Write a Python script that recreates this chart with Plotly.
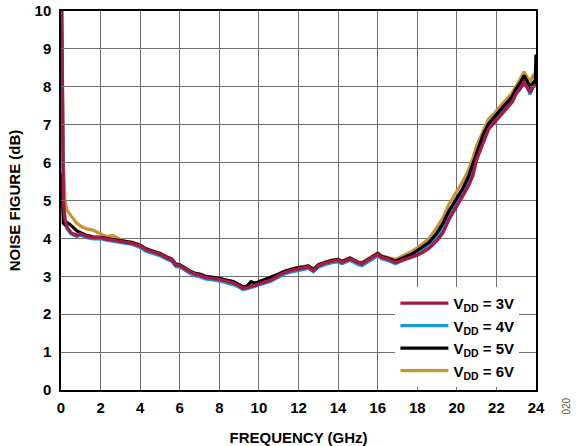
import plotly.graph_objects as go

freq = [0.03, 0.08, 0.12, 0.2, 0.3, 0.5, 0.8, 1.0, 1.3, 1.6, 2.0, 2.3, 2.6, 3.0, 3.3, 3.6,
        4.0, 4.3, 4.6, 5.0, 5.3, 5.6, 5.8, 6.0, 6.2, 6.5, 6.8, 7.0, 7.3, 7.6, 8.0, 8.3,
        8.7, 9.0, 9.2, 9.4, 9.6, 9.8, 10.0, 10.3, 10.6, 11.0, 11.3, 11.6, 12.0, 12.3, 12.5,
        12.75, 13.0, 13.3, 13.7, 14.0, 14.2, 14.6, 15.0, 15.2, 15.6, 16.0, 16.2, 16.5, 16.9,
        17.3, 17.7, 18.0, 18.3, 18.6, 19.0, 19.3, 19.6, 20.0, 20.3, 20.6, 20.8, 21.0, 21.3,
        21.6, 21.8, 22.0, 22.3, 22.6, 22.8, 23.0, 23.2, 23.4, 23.55, 23.7, 23.85, 23.95, 24.0]

nf_3v = [10.3, 7.2, 5.0, 4.5, 4.3, 4.15, 4.08, 4.12, 4.05, 4.02, 4.02, 3.98, 3.95, 3.93, 3.88, 3.87,
         3.8, 3.7, 3.65, 3.58, 3.5, 3.43, 3.3, 3.28, 3.22, 3.12, 3.05, 3.03, 2.97, 2.95, 2.92, 2.88,
         2.82, 2.75, 2.68, 2.7, 2.72, 2.76, 2.8, 2.84, 2.9, 3.02, 3.1, 3.15, 3.2, 3.22, 3.25,
         3.15, 3.28, 3.34, 3.4, 3.42, 3.37, 3.46, 3.35, 3.32, 3.46, 3.58, 3.5, 3.46, 3.36,
         3.43, 3.5, 3.56, 3.64, 3.74, 3.95, 4.15, 4.5, 4.88, 5.12, 5.4, 5.65, 6.08, 6.5,
         6.88, 7.0, 7.12, 7.32, 7.48, 7.6, 7.82, 7.95, 8.12, 7.98, 7.85, 8.0, 8.02, 8.05]

nf_4v = [10.3, 7.1, 4.95, 4.45, 4.26, 4.12, 4.05, 4.09, 4.02, 3.99, 3.99, 3.95, 3.92, 3.9, 3.85, 3.84,
         3.76, 3.66, 3.61, 3.54, 3.46, 3.39, 3.26, 3.24, 3.18, 3.08, 3.01, 2.99, 2.93, 2.91, 2.88, 2.84,
         2.78, 2.71, 2.65, 2.67, 2.69, 2.73, 2.77, 2.81, 2.87, 2.98, 3.06, 3.11, 3.16, 3.18, 3.21,
         3.12, 3.24, 3.3, 3.36, 3.38, 3.33, 3.42, 3.31, 3.28, 3.42, 3.54, 3.46, 3.42, 3.33,
         3.42, 3.52, 3.6, 3.7, 3.82, 4.05, 4.28, 4.62, 4.98, 5.22, 5.52, 5.8, 6.2, 6.6,
         6.95, 7.08, 7.2, 7.38, 7.55, 7.68, 7.88, 8.0, 8.15, 8.0, 7.8, 8.0, 8.1, 8.2]

nf_5v = [5.72, 4.8, 4.4, 4.36, 4.42, 4.35, 4.2, 4.15, 4.08, 4.04, 4.03, 4.0, 3.97, 3.95, 3.9, 3.89,
         3.82, 3.72, 3.67, 3.6, 3.52, 3.45, 3.32, 3.3, 3.24, 3.14, 3.07, 3.06, 3.0, 2.98, 2.95, 2.91,
         2.86, 2.78, 2.72, 2.74, 2.86, 2.82, 2.86, 2.9, 2.96, 3.06, 3.13, 3.18, 3.23, 3.25, 3.27,
         3.18, 3.3, 3.36, 3.42, 3.44, 3.39, 3.48, 3.37, 3.34, 3.48, 3.6, 3.52, 3.48, 3.4,
         3.48, 3.58, 3.68, 3.78, 3.9, 4.15, 4.4, 4.72, 5.06, 5.32, 5.65, 5.95, 6.3, 6.7,
         7.02, 7.15, 7.28, 7.45, 7.62, 7.75, 7.95, 8.1, 8.3, 8.15, 8.0, 8.1, 8.0, 8.85]

nf_6v = [10.3, 8.0, 6.0, 5.0, 4.75, 4.6, 4.4, 4.32, 4.25, 4.22, 4.12, 4.05, 4.08, 3.97, 3.92, 3.9,
         3.83, 3.73, 3.68, 3.61, 3.53, 3.46, 3.33, 3.31, 3.25, 3.15, 3.08, 3.06, 3.0, 2.98, 2.95, 2.91,
         2.85, 2.78, 2.71, 2.73, 2.76, 2.8, 2.85, 2.9, 2.96, 3.07, 3.14, 3.19, 3.24, 3.26, 3.28,
         3.19, 3.31, 3.37, 3.43, 3.45, 3.4, 3.49, 3.38, 3.36, 3.5, 3.62, 3.54, 3.5, 3.44,
         3.55, 3.65, 3.75, 3.88, 4.0, 4.3, 4.55, 4.9, 5.23, 5.5, 5.82, 6.1, 6.45, 6.82,
         7.15, 7.25, 7.38, 7.55, 7.72, 7.85, 8.02, 8.2, 8.4, 8.25, 8.15, 8.3, 8.28, 8.3]

x_ticks = [0, 2, 4, 6, 8, 10, 12, 14, 16, 18, 20, 22, 24]
y_ticks = [0, 1, 2, 3, 4, 5, 6, 7, 8, 9, 10]

series = [
    ("V<sub>DD</sub> = 6V", nf_6v, "#C6972F", 3.2, 4),
    ("V<sub>DD</sub> = 4V", nf_4v, "#1B9AD2", 3.2, 2),
    ("V<sub>DD</sub> = 5V", nf_5v, "#000000", 3.2, 3),
    ("V<sub>DD</sub> = 3V", nf_3v, "#A51A4A", 3.4, 1),
]

font = "Liberation Sans, Arial, sans-serif"
fig = go.Figure()
for name, ys, color, w, rank in series:
    fig.add_trace(go.Scatter(x=freq, y=ys, mode="lines", name=name,
                             line=dict(color=color, width=w), legendrank=rank))

axis_common = dict(
    showgrid=True, gridcolor="#707070", gridwidth=1.2,
    showline=True, linecolor="black", linewidth=1.5, mirror="ticks",
    ticks="inside", ticklen=6, tickcolor="#707070", tickwidth=1.2,
    tickfont=dict(family=font, size=15, color="black", weight="bold"),
    zeroline=False, automargin=False,
)
fig.update_xaxes(range=[0, 24], tickvals=x_ticks, ticklabelstandoff=3, **axis_common,
                 title=dict(text="FREQUENCY (GHz)", standoff=18,
                            font=dict(family=font, size=15, color="black", weight="bold")))
fig.update_yaxes(range=[0, 10], tickvals=y_ticks, ticklabelstandoff=5, **axis_common,
                 title=dict(text="NOISE FIGURE (dB)", standoff=10,
                            font=dict(family=font, size=15, color="black", weight="bold")))

fig.add_annotation(text="020", xref="paper", yref="paper", x=1.08, y=-0.07,
                   textangle=-90, showarrow=False,
                   font=dict(family=font, size=10, color="#555555"))

fig.update_layout(
    width=577, height=446,
    margin=dict(l=61, r=41, t=11, b=56),
    plot_bgcolor="white", paper_bgcolor="white",
    showlegend=True,
    legend=dict(x=0.704, y=0.272, xanchor="left", yanchor="top",
                bgcolor="white", borderwidth=0, itemwidth=48,
                tracegroupgap=0,
                font=dict(family=font, size=15, color="black", weight="bold")),
)

fig.write_html("out.html")
